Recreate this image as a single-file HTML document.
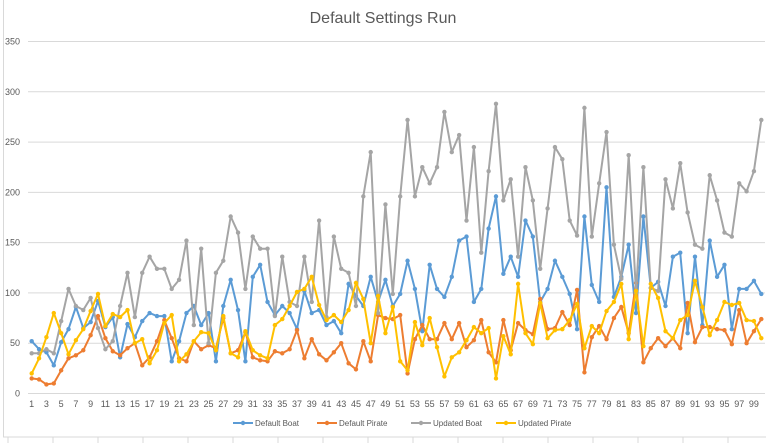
<!DOCTYPE html>
<html><head><meta charset="utf-8"><style>
html,body{margin:0;padding:0;background:#fff;}
svg{display:block;font-family:"Liberation Sans",sans-serif;}
</style></head><body>
<svg id="chart" width="766" height="443">
<rect x="3.5" y="-1" width="770" height="438" fill="#fff" stroke="#d9d9d9"/>
<text x="383" y="23" text-anchor="middle" font-size="16" fill="#595959">Default Settings Run</text>
<g id="grid"></g><g id="ylabels"></g><g id="xlabels"></g><g id="series"></g><g id="legend"></g><g id="sheet"></g>
</svg>
<script>
const categories = Array.from({length:100},(_,i)=>i+1);
const yTicks = [0,50,100,150,200,250,300,350];
const seriesNames = ["Default Boat","Default Pirate","Updated Boat","Updated Pirate"];
const seriesColors = ["#5B9BD5","#ED7D31","#A5A5A5","#FFC000"];
const defaultBoat = [52,44,41,28,51,64,86,65,71,92,66,76,36,69,56,72,80,77,77,32,52,80,87,68,80,32,
87,113,83,32,116,128,91,78,87,80,64,102,80,83,68,72,60,109,97,87,116,91,113,87,
99,132,104,62,128,104,96,116,152,156,91,104,164,196,119,136,116,172,156,91,104,132,116,99,64,
176,108,91,205,96,116,148,80,176,105,111,87,136,140,60,136,68,152,116,128,64,104,104,112,99];
const defaultPirate = [15,14,9,10,23,35,38,43,58,77,55,42,38,45,50,28,36,52,73,55,35,32,52,44,48,45,
75,40,43,61,36,33,32,42,40,44,63,35,54,39,33,41,50,30,24,52,32,78,75,74,
78,20,54,68,54,54,70,54,70,46,53,73,41,31,73,43,70,63,59,94,64,65,81,68,103,
21,56,67,54,75,86,60,110,31,45,55,47,55,45,90,51,66,66,64,63,49,83,50,62,74];
const updatedBoat = [40,40,44,40,72,104,87,83,95,65,44,52,87,120,76,120,136,124,124,104,113,152,68,144,50,120,
132,176,160,104,156,144,144,77,136,91,87,136,91,172,76,156,124,120,87,196,240,80,188,99,
196,272,196,225,209,225,280,240,257,172,245,140,221,288,192,213,136,225,192,124,184,245,233,172,157,
284,156,209,260,148,114,237,100,225,105,102,213,184,229,180,148,144,217,192,160,156,209,201,221,272];
const updatedPirate = [20,35,56,80,60,39,53,64,82,99,67,79,76,83,50,54,30,43,70,78,32,39,52,61,60,43,
77,40,36,62,43,38,35,68,74,87,101,104,116,88,73,78,71,83,110,94,50,97,60,86,
32,23,71,48,75,46,17,36,41,53,66,60,65,15,57,39,109,60,49,90,55,63,64,73,89,
45,67,60,82,91,109,54,102,47,109,95,62,55,73,78,112,86,58,73,91,88,90,73,72,55];
const allSeries = [defaultBoat, defaultPirate, updatedBoat, updatedPirate];

const NS="http://www.w3.org/2000/svg";
const plotL=28, plotR=765, y0=393.5, yTop=41.5, yMax=350;
const band=(plotR-plotL)/categories.length;
function xScale(i){return plotL+band*(i+0.5);}
function yScale(v){return y0-(v/yMax)*(y0-yTop);}
function mk(tag,attrs,parent){const e=document.createElementNS(NS,tag);for(const k in attrs)e.setAttribute(k,attrs[k]);parent.appendChild(e);return e;}

const grid=document.getElementById('grid'), yl=document.getElementById('ylabels');
yTicks.forEach(t=>{
  const g=mk('line',{x1:plotL,x2:plotR,y1:yScale(t),y2:yScale(t),stroke:'#d9d9d9','stroke-width':1},grid);
  
  
  const tx=mk('text',{x:20,y:yScale(t)+3,'text-anchor':'end','font-size':9,fill:'#595959'},yl);
  tx.textContent=t;
  
  
});
const xl=document.getElementById('xlabels');
categories.forEach((c,i)=>{
  if(i%2!==0)return;
  const tx=mk('text',{x:xScale(i),y:407,'text-anchor':'middle','font-size':9,fill:'#595959'},xl);
  tx.textContent=c;
  
  
});
const sg=document.getElementById('series');
allSeries.forEach((vals,s)=>{
  const g=mk('g',{},sg);
  
  
  const pts=vals.map((v,i)=>xScale(i).toFixed(1)+','+yScale(v).toFixed(1)).join(' ');
  const pl=mk('polyline',{points:pts,fill:'none',stroke:seriesColors[s],'stroke-width':2,'stroke-linejoin':'round'},g);
  
  
  vals.forEach((v,i)=>{
    const c=mk('circle',{cx:xScale(i),cy:yScale(v),r:2.2,fill:seriesColors[s]},g);
    
    
  });
});
const lg=document.getElementById('legend');
const lx=[233,317,411,496];
seriesNames.forEach((n,s)=>{
  const g=mk('g',{},lg);
  
  
  mk('line',{x1:lx[s],x2:lx[s]+20,y1:423,y2:423,stroke:seriesColors[s],'stroke-width':2},g);
  mk('circle',{cx:lx[s]+10,cy:423,r:2.2,fill:seriesColors[s]},g);
  const t=mk('text',{x:lx[s]+22,y:426,'font-size':8,fill:'#595959'},g);
  t.textContent=n;
});
const sh=document.getElementById('sheet');
for(let x=8;x<766;x+=45){mk('line',{x1:x,x2:x,y1:437,y2:443,stroke:'#d9d9d9'},sh);}
</script>
</body></html>
